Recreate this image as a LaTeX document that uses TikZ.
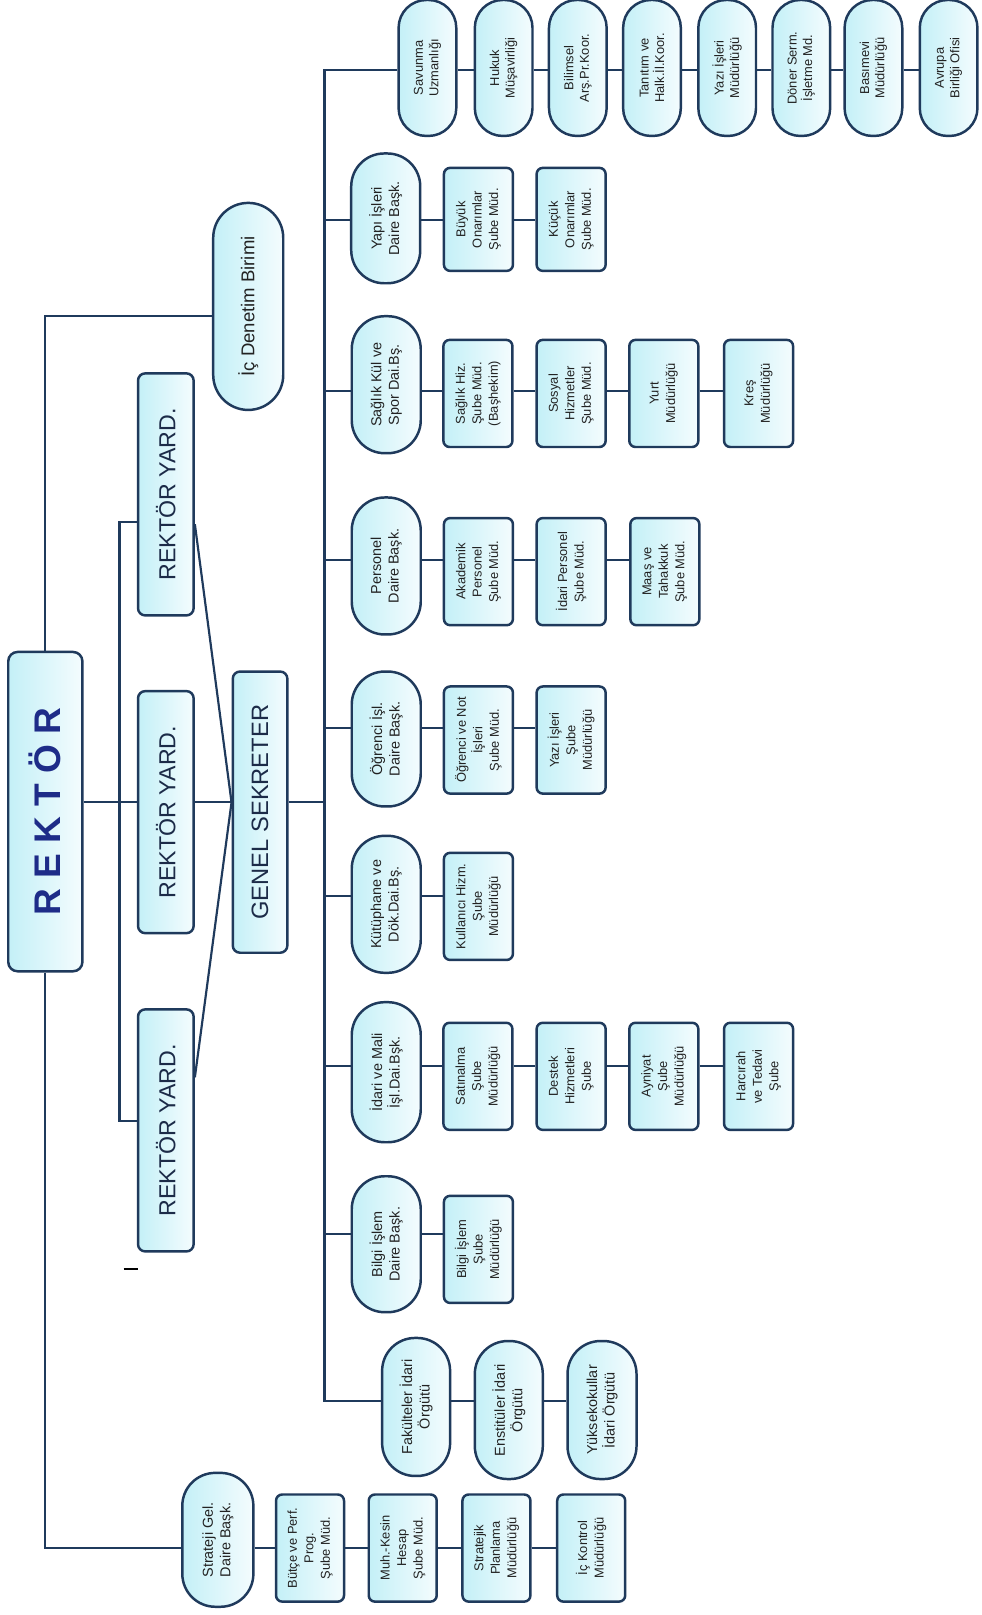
\documentclass[tikz,border=0pt]{standalone}
\usepackage{fontspec}
\setmainfont{Liberation Sans}
\definecolor{navy}{HTML}{1F3A5C}
\definecolor{cyanfill}{HTML}{C4F0F7}
\definecolor{palefill}{HTML}{F4FCFE}
\definecolor{txt}{HTML}{222222}
\definecolor{rekblue}{HTML}{1E2C88}
\definecolor{hdtxt}{HTML}{1C2B48}
\tikzset{
  conn/.style={draw=navy, line width=2.1pt},
  boxbase/.style={draw=navy, line width=2.4pt, left color=cyanfill, right color=palefill, rotate=90, inner sep=1pt, align=center, text=txt},
  stad/.style={boxbase, rounded corners=#1, font=\fontsize{14}{17}\selectfont},
  dbox/.style={stad=32pt, minimum width=133pt, minimum height=67pt},
  topbox/.style={boxbase, rounded corners=27pt, minimum width=132pt, minimum height=56pt, font=\fontsize{12.5}{15}\selectfont},
  rbox/.style={boxbase, rounded corners=6pt, minimum width=104pt, minimum height=67pt, font=\fontsize{12.5}{16}\selectfont},
  ybox/.style={boxbase, rounded corners=7pt, minimum width=235pt, minimum height=54pt, text=hdtxt, font=\fontsize{22.5}{26}\selectfont},
}
\begin{document}
\begin{tikzpicture}[x=1pt,y=-1pt]
\useasboundingbox (0,0) rectangle (953,1568);
\fill[white] (0,0) rectangle (953,1568);

% ---------- left part ----------
\node[boxbase, rounded corners=9pt, minimum width=310pt, minimum height=72pt, text=rekblue, font=\bfseries\fontsize{36}{40}\selectfont] (rek) at (44,788) {R E K T Ö R};
\node[stad=34pt, minimum width=201pt, minimum height=68pt, font=\fontsize{18}{21}\selectfont] (icd) at (241,297.5) {İç Denetim Birimi};
\node[ybox] (yd1) at (161,480) {REKTÖR YARD.};
\node[ybox] (yd2) at (161,788.5) {REKTÖR YARD.};
\node[ybox] (yd3) at (161,1097.5) {REKTÖR YARD.};
\node[boxbase, rounded corners=7pt, minimum width=273pt, minimum height=53pt, text=hdtxt, font=\fontsize{23}{26}\selectfont] (gs) at (252.5,788.5) {GENEL SEKRETER};

% ---------- top row ----------
\node[topbox] (sav) at (415,66) {Savunma\\Uzmanlığı};
\node[topbox] (huk) at (489,66) {Hukuk\\Müşavirliği};
\node[topbox] (bil) at (561,66) {Bilimsel\\Arş.Pr.Koor.};
\node[topbox] (tan) at (633,66) {Tanıtım ve\\Halk.İl.Koor.};
\node[topbox] (yaz) at (706,66) {Yazı İşleri\\Müdürlüğü};
\node[topbox] (don) at (778,66) {Döner Serm.\\İşletme Md.};
\node[topbox] (bas) at (848,66) {Basımevi\\Müdürlüğü};
\node[topbox] (avr) at (921,66) {Avrupa\\Birliği Ofisi};

% ---------- Yapı ----------
\node[dbox, minimum width=126pt] (yap) at (374.5,212) {Yapı İşleri\\Daire Başk.};
\node[rbox, minimum width=100pt] (buy) at (464.5,213) {Büyük\\Onarımlar\\Şube Müd.};
\node[rbox, minimum width=100pt] (kuc) at (554.5,213) {Küçük\\Onarımlar\\Şube Müd.};

% ---------- Sağlık ----------
\node[dbox] (sag) at (375,373.5) {Sağlık Kül ve\\Spor Dai.Bş.};
\node[rbox] (shz) at (464,382) {Sağlık Hiz.\\Şube Müd.\\(Başhekim)};
\node[rbox] (sos) at (554.5,382) {Sosyal\\Hizmetler\\Şube Müd.};
\node[rbox] (yur) at (644.5,382) {Yurt\\Müdürlüğü};
\node[rbox] (kre) at (736.5,382) {Kreş\\Müdürlüğü};

% ---------- Personel ----------
\node[dbox] (per) at (375,549.5) {Personel\\Daire Başk.};
\node[rbox] (aka) at (464.5,555) {Akademik\\Personel\\Şube Müd.};
\node[rbox] (idp) at (554.5,555) {İdari Personel\\Şube Müd.};
\node[rbox] (maa) at (645.5,555) {Maaş ve\\Tahakkuk\\Şube Müd.};

% ---------- Öğrenci ----------
\node[dbox, minimum width=131pt] (ogr) at (375,717.5) {Öğrenci İşl.\\Daire Başk.};
\node[rbox] (ogn) at (464.5,718.5) {Öğrenci ve Not\\İşleri\\Şube Müd.};
\node[rbox] (ogy) at (554.5,718.5) {Yazı İşleri\\Şube\\Müdürlüğü};

% ---------- Kütüphane ----------
\node[dbox] (kut) at (375,878) {Kütüphane ve\\Dök.Dai.Bş.};
\node[rbox] (kul) at (464.5,880) {Kullanıcı Hizm.\\Şube\\Müdürlüğü};

% ---------- İdari ve Mali ----------
\node[dbox, minimum width=136pt] (ida) at (375,1041) {İdari ve Mali\\İşl.Dai.Bşk.};
\node[rbox] (sat) at (464,1045) {Satınalma\\Şube\\Müdürlüğü};
\node[rbox] (des) at (554.5,1045) {Destek\\Hizmetleri\\Şube};
\node[rbox] (ayn) at (644.5,1045) {Ayniyat\\Şube\\Müdürlüğü};
\node[rbox] (har) at (736.5,1045) {Harcırah\\ve Tedavi\\Şube};

% ---------- Bilgi İşlem ----------
\node[dbox, minimum width=132pt] (bgi) at (375,1208) {Bilgi İşlem\\Daire Başk.};
\node[rbox] (bgs) at (464.5,1213) {Bilgi İşlem\\Şube\\Müdürlüğü};

% ---------- Fakülteler ----------
\node[dbox, minimum width=134pt, minimum height=66pt] (fak) at (404,1366) {Fakülteler İdari\\Örgütü};
\node[dbox, minimum width=134pt, minimum height=66pt] (ens) at (494,1369) {Enstitüler İdari\\Örgütü};
\node[dbox, minimum width=134pt, minimum height=67pt] (yuk) at (584.5,1369) {Yüksekokullar\\İdari Örgütü};

% ---------- Strateji ----------
\node[dbox, minimum width=130pt, minimum height=69pt] (str) at (211.5,1495) {Strateji Gel.\\Daire Başk.};
\node[rbox, minimum height=66pt] (but) at (301,1503) {Bütçe ve Perf.\\Prog.\\Şube Müd.};
\node[rbox, minimum height=66pt] (muh) at (391,1503) {Muh.-Kesin\\Hesap\\Şube Müd.};
\node[rbox, minimum height=66pt] (stp) at (482,1503) {Stratejik\\Planlama\\Müdürlüğü};
\node[rbox, minimum height=66pt] (ick) at (574,1503) {İç Kontrol\\Müdürlüğü};

% ---------- coordinates ----------
\coordinate (kI) at (0,307);
\coordinate (kS) at (0,1503);
\coordinate (yb) at (116,779);
\coordinate (yt) at (116,507);
\coordinate (ybt) at (116,1088);
\coordinate (d1) at (0,509);
\coordinate (d3) at (0,1046);
\coordinate (bTop) at (315,68);
\coordinate (bGS) at (315,779);
\coordinate (bBot) at (315,1360);
\coordinate (rY) at (315,214);
\coordinate (rS) at (315,380);
\coordinate (rP) at (315,544);
\coordinate (rO) at (315,707);
\coordinate (rK) at (315,870);
\coordinate (rI) at (315,1035);
\coordinate (rB) at (315,1198);

% ---------- connectors ----------
\draw[conn] (rek.east) |- (icd.north |- kI);
\draw[conn] (rek.west) |- (str.north |- kS);
\draw[conn] (rek.south |- yb) -- (yd2.north |- yb);
\draw[conn] (yd2.south |- yb) -- (gs.north |- yb);
\draw[conn] (gs.south |- yb) -- (bGS);
\draw[conn] (yd1.north |- yt) -- (yt) -- (ybt) -- (yd3.north |- ybt);
\draw[conn] (yd1.south |- d1) -- (gs.north |- yb);
\draw[conn] (yd3.south |- d3) -- (gs.north |- yb);
\draw[conn] (sav.north |- bTop) -- (bTop) -- (bBot) -- (fak.north |- bBot);
\foreach \r/\n in {rY/yap, rS/sag, rP/per, rO/ogr, rK/kut, rI/ida, rB/bgi}
  \draw[conn] (\r) -- (\n.north |- \r);
\foreach \a/\b/\r in {sav/huk/bTop, huk/bil/bTop, bil/tan/bTop, tan/yaz/bTop, yaz/don/bTop, don/bas/bTop, bas/avr/bTop,
  yap/buy/rY, buy/kuc/rY,
  sag/shz/rS, shz/sos/rS, sos/yur/rS, yur/kre/rS,
  per/aka/rP, aka/idp/rP, idp/maa/rP,
  ogr/ogn/rO, ogn/ogy/rO,
  kut/kul/rK,
  ida/sat/rI, sat/des/rI, des/ayn/rI, ayn/har/rI,
  bgi/bgs/rB,
  fak/ens/bBot, ens/yuk/bBot,
  str/but/kS, but/muh/kS, muh/stp/kS, stp/ick/kS}
  \draw[conn] (\a.south |- \r) -- (\b.north |- \r);

% stray mark
\draw[line width=2.5pt, black] (120,1232) -- (134,1232);
\end{tikzpicture}
\end{document}
